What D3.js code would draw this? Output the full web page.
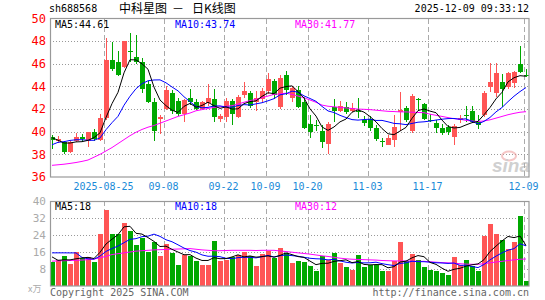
<!DOCTYPE html>
<meta charset="utf-8">
<style>
body { margin: 0; background: #fff; }
svg text { font-family: "DejaVu Sans Mono", monospace; }
</style>
<svg width="545" height="300"></svg>
<script src="https://cdn.jsdelivr.net/npm/d3@7/dist/d3.min.js"></script>
<script>
// trading days 2025-08-12 .. 2025-12-09
var dates = ["08-12","08-13","08-14","08-15","08-18","08-19","08-20","08-21","08-22",
  "08-25","08-26","08-27","08-28","08-29","09-01","09-02","09-03","09-04","09-05",
  "09-08","09-09","09-10","09-11","09-12","09-15","09-16","09-17","09-18","09-19",
  "09-22","09-23","09-24","09-25","09-26","09-29","09-30","10-09","10-10",
  "10-13","10-14","10-15","10-16","10-17","10-20","10-21","10-22","10-23","10-24",
  "10-27","10-28","10-29","10-30","10-31","11-03","11-04","11-05","11-06","11-07",
  "11-10","11-11","11-12","11-13","11-14","11-17","11-18","11-19","11-20","11-21",
  "11-24","11-25","11-26","11-27","11-28","12-01","12-02","12-03","12-04","12-05",
  "12-08","12-09"];

var open = [39.5,39.2,39.1,38.2,39.2,39.5,39.2,40.0,39.3,41.2,
  46.3,46.2,45.7,47.1,46.6,46.2,44.2,42.6,41.1,42.0,
  43.4,42.7,41.6,43.0,42.6,42.0,42.5,42.9,41.1,41.3,
  42.7,41.3,43.2,43.4,42.6,42.9,43.6,44.5,42.2,45.0,
  43.0,43.7,42.6,40.7,40.55,40.1,38.95,42.2,41.8,42.2,
  41.8,41.8,41.0,41.15,40.3,39.2,38.85,39.25,41.75,42.1,
  40.1,42.9,42.45,41.0,40.8,40.3,40.4,39.55,41.0,41.45,
  41.8,40.9,41.45,43.95,43.4,44.35,43.95,44.3,46.0,45.0];
var close = [39.3,39.4,38.2,39.1,39.5,39.4,40.0,39.4,41.2,46.3,
  45.5,45.0,48.0,47.0,46.2,43.8,42.6,40.1,41.3,43.7,
  41.8,41.6,42.8,42.6,42.0,42.6,43.0,41.3,41.4,42.7,
  41.6,43.1,43.6,42.3,43.0,43.6,44.7,43.2,44.75,43.7,
  43.9,42.2,40.3,40.0,40.5,39.1,40.7,41.8,42.25,41.75,
  42.1,41.75,40.8,40.3,39.4,39.15,39.45,40.4,41.9,41.0,
  43.15,42.85,41.15,40.95,40.3,39.9,40.0,40.5,41.2,41.4,
  40.9,40.55,43.45,44.4,45.2,43.8,45.15,45.3,45.3,44.95];
var high = [39.7,39.6,39.2,39.2,39.9,39.8,40.0,40.2,41.6,48.3,
  47.9,47.1,48.0,48.7,48.5,46.5,44.5,43.0,41.5,44.0,
  43.7,43.0,42.9,43.8,42.9,42.7,44.2,43.8,41.6,43.0,
  42.9,43.2,44.4,43.6,43.6,43.9,45.2,44.7,45.0,45.4,
  44.0,44.0,43.1,41.5,41.0,40.6,40.9,42.9,42.7,42.6,
  42.5,43.0,41.4,41.4,40.6,39.45,39.7,41.45,43.5,42.3,
  43.3,43.0,42.5,41.6,41.0,40.7,40.6,40.7,41.45,42.3,
  42.25,41.45,43.6,46.1,46.1,45.1,45.3,45.35,47.6,45.5];
var low = [38.5,39.0,38.0,38.1,39.1,39.1,38.65,39.2,39.2,41.0,
  45.4,44.9,45.6,46.2,46.0,43.4,42.5,39.2,39.8,41.9,
  41.6,41.4,40.9,42.4,41.9,41.9,42.3,40.9,40.9,40.9,
  40.6,41.2,43.0,42.1,41.8,42.6,43.3,42.9,42.0,43.2,
  42.6,42.1,40.2,39.45,40.05,38.55,38.0,40.9,41.7,41.6,
  41.7,41.2,40.5,40.1,39.2,38.65,38.8,38.65,40.1,40.9,
  39.9,41.9,41.0,40.85,39.9,39.7,39.7,38.85,40.8,40.9,
  40.8,40.2,41.3,43.5,43.1,42.2,43.75,43.9,45.2,44.85];
// volume, 万手
var volume = [11.3,12.4,14.0,10.2,16.1,13.4,13.7,11.3,24.7,35.7,
  24.7,24.3,29.8,26.0,19.2,22.8,16.1,20.8,14.0,20.0,
  15.3,9.8,14.5,14.2,11.8,9.8,9.8,21.1,11.7,12.1,
  13.7,14.8,16.1,14.0,9.3,15.0,16.4,13.2,18.0,15.3,
  10.9,11.8,11.3,9.3,6.9,14.0,12.1,15.6,10.9,9.0,
  7.4,14.5,9.0,9.8,9.8,7.1,7.1,11.7,20.8,11.7,
  15.0,12.4,9.0,7.4,7.1,6.1,5.0,13.7,9.8,12.1,
  9.3,7.1,23.6,29.1,24.7,21.6,17.6,20.8,32.9,2.4];

// the nine sessions before the window, for the short averages
var priorClose = [37.3,37.6,38.0,38.9,39.35,40.5,39.45,39.1,39.0];
var priorVolume = [12.4,14.0,10.5,16.0,34.6,20.4,13.0,10.2,13.6];

// 30-day averages
var ma30Price = [37.03,37.08,37.13,37.2,37.28,37.38,37.5,37.75,38.0,38.3,
  38.6,38.95,39.3,39.65,39.95,40.2,40.4,40.55,40.75,40.95,
  41.15,41.35,41.5,41.65,41.85,41.95,42.05,42.15,42.2,42.25,
  42.3,42.45,42.6,42.75,42.85,43.0,43.15,43.3,43.35,43.4,
  43.3,43.15,43.0,42.8,42.6,42.35,42.25,42.2,42.15,42.1,
  42.05,42.0,41.98,41.95,41.9,41.85,41.8,41.78,41.75,41.75,
  41.72,41.7,41.68,41.55,41.45,41.35,41.25,41.15,41.1,41.0,
  40.95,40.9,40.95,41.05,41.2,41.35,41.5,41.62,41.72,41.77];
var ma30Volume = [11.7,11.8,11.9,12.0,12.1,12.2,12.4,12.7,13.2,14.0,
  14.8,15.2,15.6,16.0,16.4,16.6,16.8,17.0,17.1,17.2,
  17.3,17.4,17.5,17.6,17.3,17.0,16.8,16.6,16.6,16.7,
  16.8,16.8,16.8,16.8,16.7,16.8,16.8,16.8,16.5,16.2,
  15.9,15.6,15.3,15.0,14.6,14.2,13.9,13.5,13.1,12.8,
  12.6,12.5,12.4,12.3,12.2,12.0,11.9,11.8,11.8,11.8,
  11.7,11.6,11.6,11.4,11.2,11.0,10.9,10.7,10.5,10.3,
  10.2,10.2,10.5,10.9,11.3,11.6,12.0,12.3,12.6,12.7];

var priceTicks = [50,48,46,44,42,40,38,36];
var volumeTicks = [40,32,24,16,8];
var tickDates = ["08-25","09-08","09-22","10-09","10-20","11-03","11-17","12-09"];
var tickLabels = ["2025-08-25","09-08","09-22","10-09","10-20","11-03","11-17","12-09"];

var RED = "#ff5555", GREEN = "#00a800";

var svg = d3.select("svg");
svg.append("rect").attr("width", 545).attr("height", 300).attr("fill", "#fff");

var x = d3.scaleBand().domain(dates).range([49, 529]);
function cx(d) { return x(d) + 3; }

var y = d3.scaleLinear().domain([36, 50]).range([177, 18.5]);
var yv = d3.scaleLinear().domain([0, 40]).range([286, 201]);

function movingAvg(values, prior, n) {
  var all = prior.concat(values);
  return values.map(function(v, i) {
    var end = i + prior.length + 1;
    return d3.mean(all.slice(end - n, end));
  });
}

var ma5 = movingAvg(close, priorClose, 5),
    ma10 = movingAvg(close, priorClose, 10),
    vma5 = movingAvg(volume, priorVolume, 5),
    vma10 = movingAvg(volume, priorVolume, 10);

// ---- grid
var grid = svg.append("g").attr("shape-rendering", "crispEdges");
grid.selectAll(".hp").data(priceTicks.slice(1, -1)).enter().append("line")
    .attr("x1", 50).attr("x2", 529)
    .attr("y1", function(d) { return Math.round(y(d)) + 0.5; })
    .attr("y2", function(d) { return Math.round(y(d)) + 0.5; })
    .attr("stroke", "#999").attr("stroke-dasharray", "1,2");
grid.selectAll(".hv").data(volumeTicks.slice(1)).enter().append("line")
    .attr("x1", 50).attr("x2", 529)
    .attr("y1", function(d) { return Math.round(yv(d)) + 0.5; })
    .attr("y2", function(d) { return Math.round(yv(d)) + 0.5; })
    .attr("stroke", "#999").attr("stroke-dasharray", "1,2");
[[18.5, 177], [201, 286]].forEach(function(r) {
  grid.append("g").selectAll("line").data(tickDates).enter().append("line")
      .attr("x1", function(d) { return cx(d) - 1.5; })
      .attr("x2", function(d) { return cx(d) - 1.5; })
      .attr("y1", r[0]).attr("y2", r[1])
      .attr("stroke", "#aaa").attr("stroke-dasharray", "5,3");
});

// ---- candles
var idx = d3.range(dates.length);
var candles = svg.append("g").attr("shape-rendering", "crispEdges");
candles.selectAll("line").data(idx).enter().append("line")
    .attr("x1", function(i) { return cx(dates[i]) + 0.5; })
    .attr("x2", function(i) { return cx(dates[i]) + 0.5; })
    .attr("y1", function(i) { return y(high[i]); })
    .attr("y2", function(i) { return y(low[i]); })
    .attr("stroke", function(i) { return close[i] >= open[i] ? RED : GREEN; });
candles.selectAll("rect").data(idx).enter().append("rect")
    .attr("x", function(i) { return cx(dates[i]) - 2; })
    .attr("width", 5)
    .attr("y", function(i) { return y(Math.max(open[i], close[i])); })
    .attr("height", function(i) { return Math.max(1, Math.abs(y(open[i]) - y(close[i]))); })
    .attr("fill", function(i) { return close[i] >= open[i] ? RED : GREEN; });

// ---- volume bars
svg.append("g").attr("shape-rendering", "crispEdges")
  .selectAll("rect").data(idx).enter().append("rect")
    .attr("x", function(i) { return cx(dates[i]) - 2; })
    .attr("width", 5)
    .attr("y", function(i) { return yv(volume[i]); })
    .attr("height", function(i) { return yv(0) - yv(volume[i]); })
    .attr("fill", function(i) { return close[i] >= open[i] ? RED : GREEN; });

// ---- moving average lines
function drawLine(values, scale, color) {
  svg.append("path")
      .datum(values)
      .attr("fill", "none")
      .attr("stroke", color)
      .attr("stroke-width", 1)
      .attr("d", d3.line()
          .x(function(d, i) { return cx(dates[i]); })
          .y(function(d) { return scale(d); }));
}
drawLine(ma30Price, y, "#ff00ff");
drawLine(ma10, y, "#0000ff");
drawLine(ma5, y, "#000");
drawLine(ma30Volume, yv, "#ff00ff");
drawLine(vma10, yv, "#0000ff");
drawLine(vma5, yv, "#000");

// ---- frames
svg.append("rect").attr("x", 50.5).attr("y", 18.5).attr("width", 478.5).attr("height", 158.5)
    .attr("fill", "none").attr("stroke", "#999").attr("stroke-width", 1.2);
svg.append("rect").attr("x", 50.5).attr("y", 201.5).attr("width", 478.5).attr("height", 84.5)
    .attr("fill", "none").attr("stroke", "#999").attr("stroke-width", 1.2);

// ---- sina watermark
var wm = svg.append("g").attr("opacity", 0.55);
wm.append("ellipse").attr("cx", 509).attr("cy", 156).attr("rx", 7).attr("ry", 4.5)
    .attr("fill", "none").attr("stroke", "#e99").attr("stroke-width", 2);
wm.append("text").attr("x", 511).attr("y", 172).attr("text-anchor", "middle")
    .style("font-family", "'Liberation Sans', sans-serif").style("font-size", "19px")
    .style("font-weight", "bold").style("font-style", "italic")
    .attr("fill", "#aaa").text("sina");

// ---- axis labels
svg.append("g").selectAll("text").data(priceTicks).enter().append("text")
    .attr("x", 46).attr("y", function(d) { return y(d); }).attr("dy", "0.36em")
    .attr("text-anchor", "end").attr("fill", "#f00").style("font-size", "12px")
    .text(function(d) { return d; });
svg.append("g").selectAll("text").data(volumeTicks).enter().append("text")
    .attr("x", 46).attr("y", function(d) { return yv(d); }).attr("dy", "0.36em")
    .attr("text-anchor", "end").attr("fill", "#aaa").style("font-size", "11px")
    .text(function(d) { return d; });
svg.append("text").attr("x", 28).attr("y", 292).attr("fill", "#aaa")
    .style("font-size", "9px").style("font-family", "'Noto Sans CJK SC', sans-serif")
    .text("x万");
svg.append("g").selectAll("text").data(tickDates).enter().append("text")
    .attr("x", function(d) { return cx(d) - 2.5; }).attr("y", 190)
    .attr("text-anchor", "middle").attr("fill", "#1a8ad8").style("font-size", "10px")
    .text(function(d, i) { return tickLabels[i]; });

// ---- header
svg.append("text").attr("x", 49).attr("y", 12).attr("fill", "#000").style("font-size", "10px")
    .text("sh688568");
var title = svg.append("text").attr("y", 13).attr("fill", "#000")
    .style("font-family", "'Noto Sans CJK SC', sans-serif").style("font-size", "12px");
title.append("tspan").attr("x", 119).text("中科星图");
title.append("tspan").attr("x", 172).text("－");
title.append("tspan").attr("x", 192).text("日K线图");
svg.append("text").attr("x", 529).attr("y", 12).attr("text-anchor", "end").attr("fill", "#000")
    .style("font-size", "10px").text("2025-12-09 09:33:12");

function legend(yPos, texts) {
  var cols = ["#000", "#0000ff", "#ff00ff"], xs = [55, 175, 295];
  texts.forEach(function(t, i) {
    svg.append("text").attr("x", xs[i]).attr("y", yPos).attr("fill", cols[i])
        .style("font-size", "10px").text(t);
  });
}
legend(28, ["MA5:44.61", "MA10:43.74", "MA30:41.77"]);
legend(210, ["MA5:18", "MA10:18", "MA30:12"]);

svg.append("text").attr("x", 50).attr("y", 296).attr("fill", "#666").style("font-size", "10px")
    .text("Copyright 2025 SINA.COM");
svg.append("text").attr("x", 529).attr("y", 296).attr("text-anchor", "end").attr("fill", "#666")
    .style("font-size", "10px").text("http://finance.sina.com.cn");
</script>
